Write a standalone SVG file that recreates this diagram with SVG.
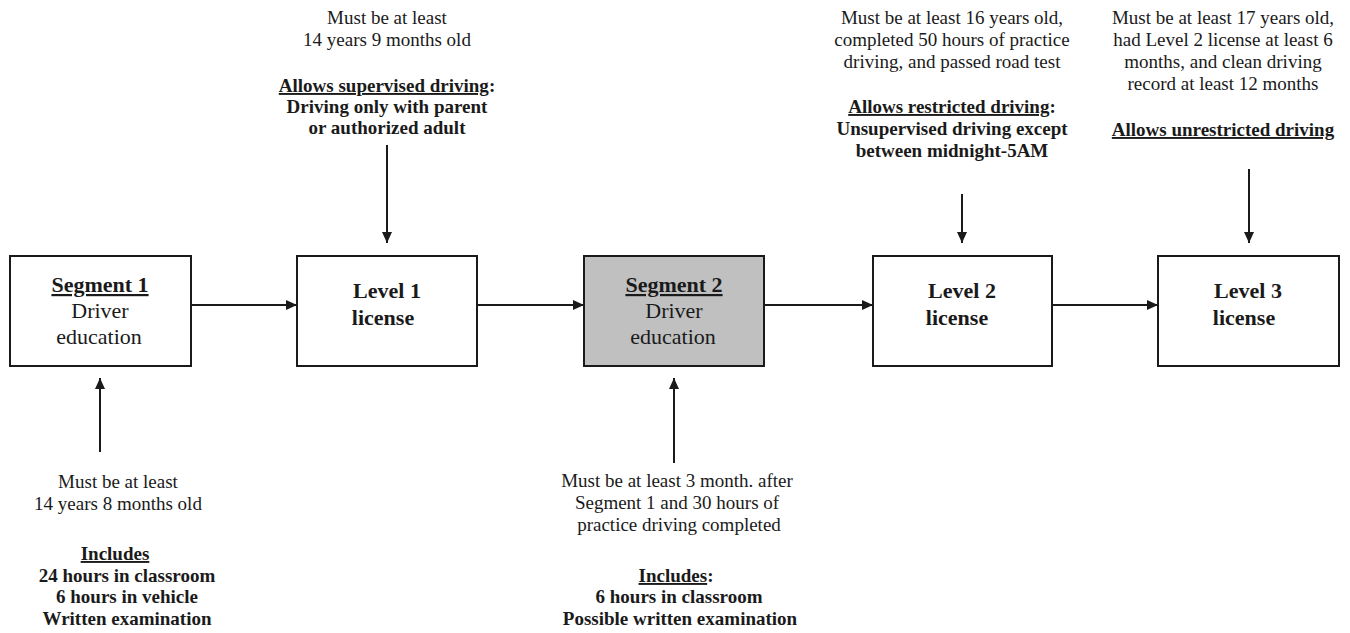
<svg xmlns="http://www.w3.org/2000/svg" width="1350" height="633" viewBox="0 0 1350 633">
<style>
.box{fill:#fff;stroke:#1a1a1a;stroke-width:2}
.gray{fill:#c0c0c0}
.t{font-family:"Liberation Serif","Times New Roman",serif;font-size:19px;fill:#1a1a1a;text-anchor:middle}
.b{font-weight:bold}
.bt{font-family:"Liberation Serif","Times New Roman",serif;font-size:22px;fill:#1a1a1a;text-anchor:middle}
.u{text-decoration:underline}
.c{stroke:#1a1a1a;stroke-width:2;fill:none;marker-end:url(#ah)}
</style>
<defs>
<marker id="ah" markerUnits="userSpaceOnUse" markerWidth="12" markerHeight="12" refX="11" refY="5" orient="auto">
<path d="M0,0 L11,5 L0,10 Z" fill="#1a1a1a"/>
</marker>
</defs>
<rect width="1350" height="633" fill="#fff"/>

<g id="connectors">
<line class="c" x1="191" y1="305" x2="297" y2="305"/>
<line class="c" x1="477" y1="305" x2="584" y2="305"/>
<line class="c" x1="764" y1="305" x2="873" y2="305"/>
<line class="c" x1="1052" y1="305" x2="1158" y2="305"/>
<line class="c" x1="387" y1="145" x2="387" y2="243"/>
<line class="c" x1="962" y1="194" x2="962" y2="243"/>
<line class="c" x1="1249" y1="169" x2="1249" y2="243"/>
<line class="c" x1="100" y1="452" x2="100" y2="378"/>
<line class="c" x1="674" y1="463" x2="674" y2="378"/>
</g>

<g id="seg1">
<rect class="box" x="10" y="256" width="181" height="110"/>
<text class="bt b u" x="100" y="292">Segment 1</text>
<text class="bt" x="100" y="318">Driver</text>
<text class="bt" x="99" y="344">education</text>
</g>

<g id="lvl1">
<rect class="box" x="297" y="256" width="180" height="110"/>
<text class="bt b" x="387" y="298">Level 1</text>
<text class="bt b" x="383" y="325">license</text>
</g>

<g id="seg2">
<rect class="box gray" x="584" y="256" width="180" height="110"/>
<text class="bt b u" x="674" y="292">Segment 2</text>
<text class="bt" x="674" y="318">Driver</text>
<text class="bt" x="673" y="344">education</text>
</g>

<g id="lvl2">
<rect class="box" x="873" y="256" width="179" height="110"/>
<text class="bt b" x="962" y="298">Level 2</text>
<text class="bt b" x="957" y="325">license</text>
</g>

<g id="lvl3">
<rect class="box" x="1158" y="256" width="181" height="110"/>
<text class="bt b" x="1248" y="298">Level 3</text>
<text class="bt b" x="1244" y="325">license</text>
</g>

<g id="note-lvl1">
<text class="t" x="387" y="24">Must be at least</text>
<text class="t" x="387" y="46">14 years 9 months old</text>
<text class="t b" x="387" y="92"><tspan class="u">Allows supervised driving</tspan>:</text>
<text class="t b" x="387" y="113">Driving only with parent</text>
<text class="t b" x="387" y="134">or authorized adult</text>
</g>

<g id="note-lvl2">
<text class="t" x="952" y="24">Must be at least 16 years old,</text>
<text class="t" x="952" y="46">completed 50 hours of practice</text>
<text class="t" x="952" y="68">driving, and passed road test</text>
<text class="t b" x="952" y="113"><tspan class="u">Allows restricted driving</tspan>:</text>
<text class="t b" x="952" y="135">Unsupervised driving except</text>
<text class="t b" x="952" y="157">between midnight-5AM</text>
</g>

<g id="note-lvl3">
<text class="t" x="1223" y="24">Must be at least 17 years old,</text>
<text class="t" x="1223" y="46">had Level 2 license at least 6</text>
<text class="t" x="1223" y="68">months, and clean driving</text>
<text class="t" x="1223" y="90">record at least 12 months</text>
<text class="t b u" x="1223" y="136">Allows unrestricted driving</text>
</g>

<g id="note-seg1">
<text class="t" x="118" y="488">Must be at least</text>
<text class="t" x="118" y="510">14 years 8 months old</text>
<text class="t b u" x="115" y="560">Includes</text>
<text class="t b" x="127" y="582">24 hours in classroom</text>
<text class="t b" x="127" y="603">6 hours in vehicle</text>
<text class="t b" x="127" y="625">Written examination</text>
</g>

<g id="note-seg2">
<text class="t" x="677" y="487">Must be at least 3 month. after</text>
<text class="t" x="677" y="509">Segment 1 and 30 hours of</text>
<text class="t" x="679" y="531">practice driving completed</text>
<text class="t b" x="676" y="582"><tspan class="u">Includes</tspan>:</text>
<text class="t b" x="679" y="603">6 hours in classroom</text>
<text class="t b" x="680" y="625">Possible written examination</text>
</g>
</svg>
